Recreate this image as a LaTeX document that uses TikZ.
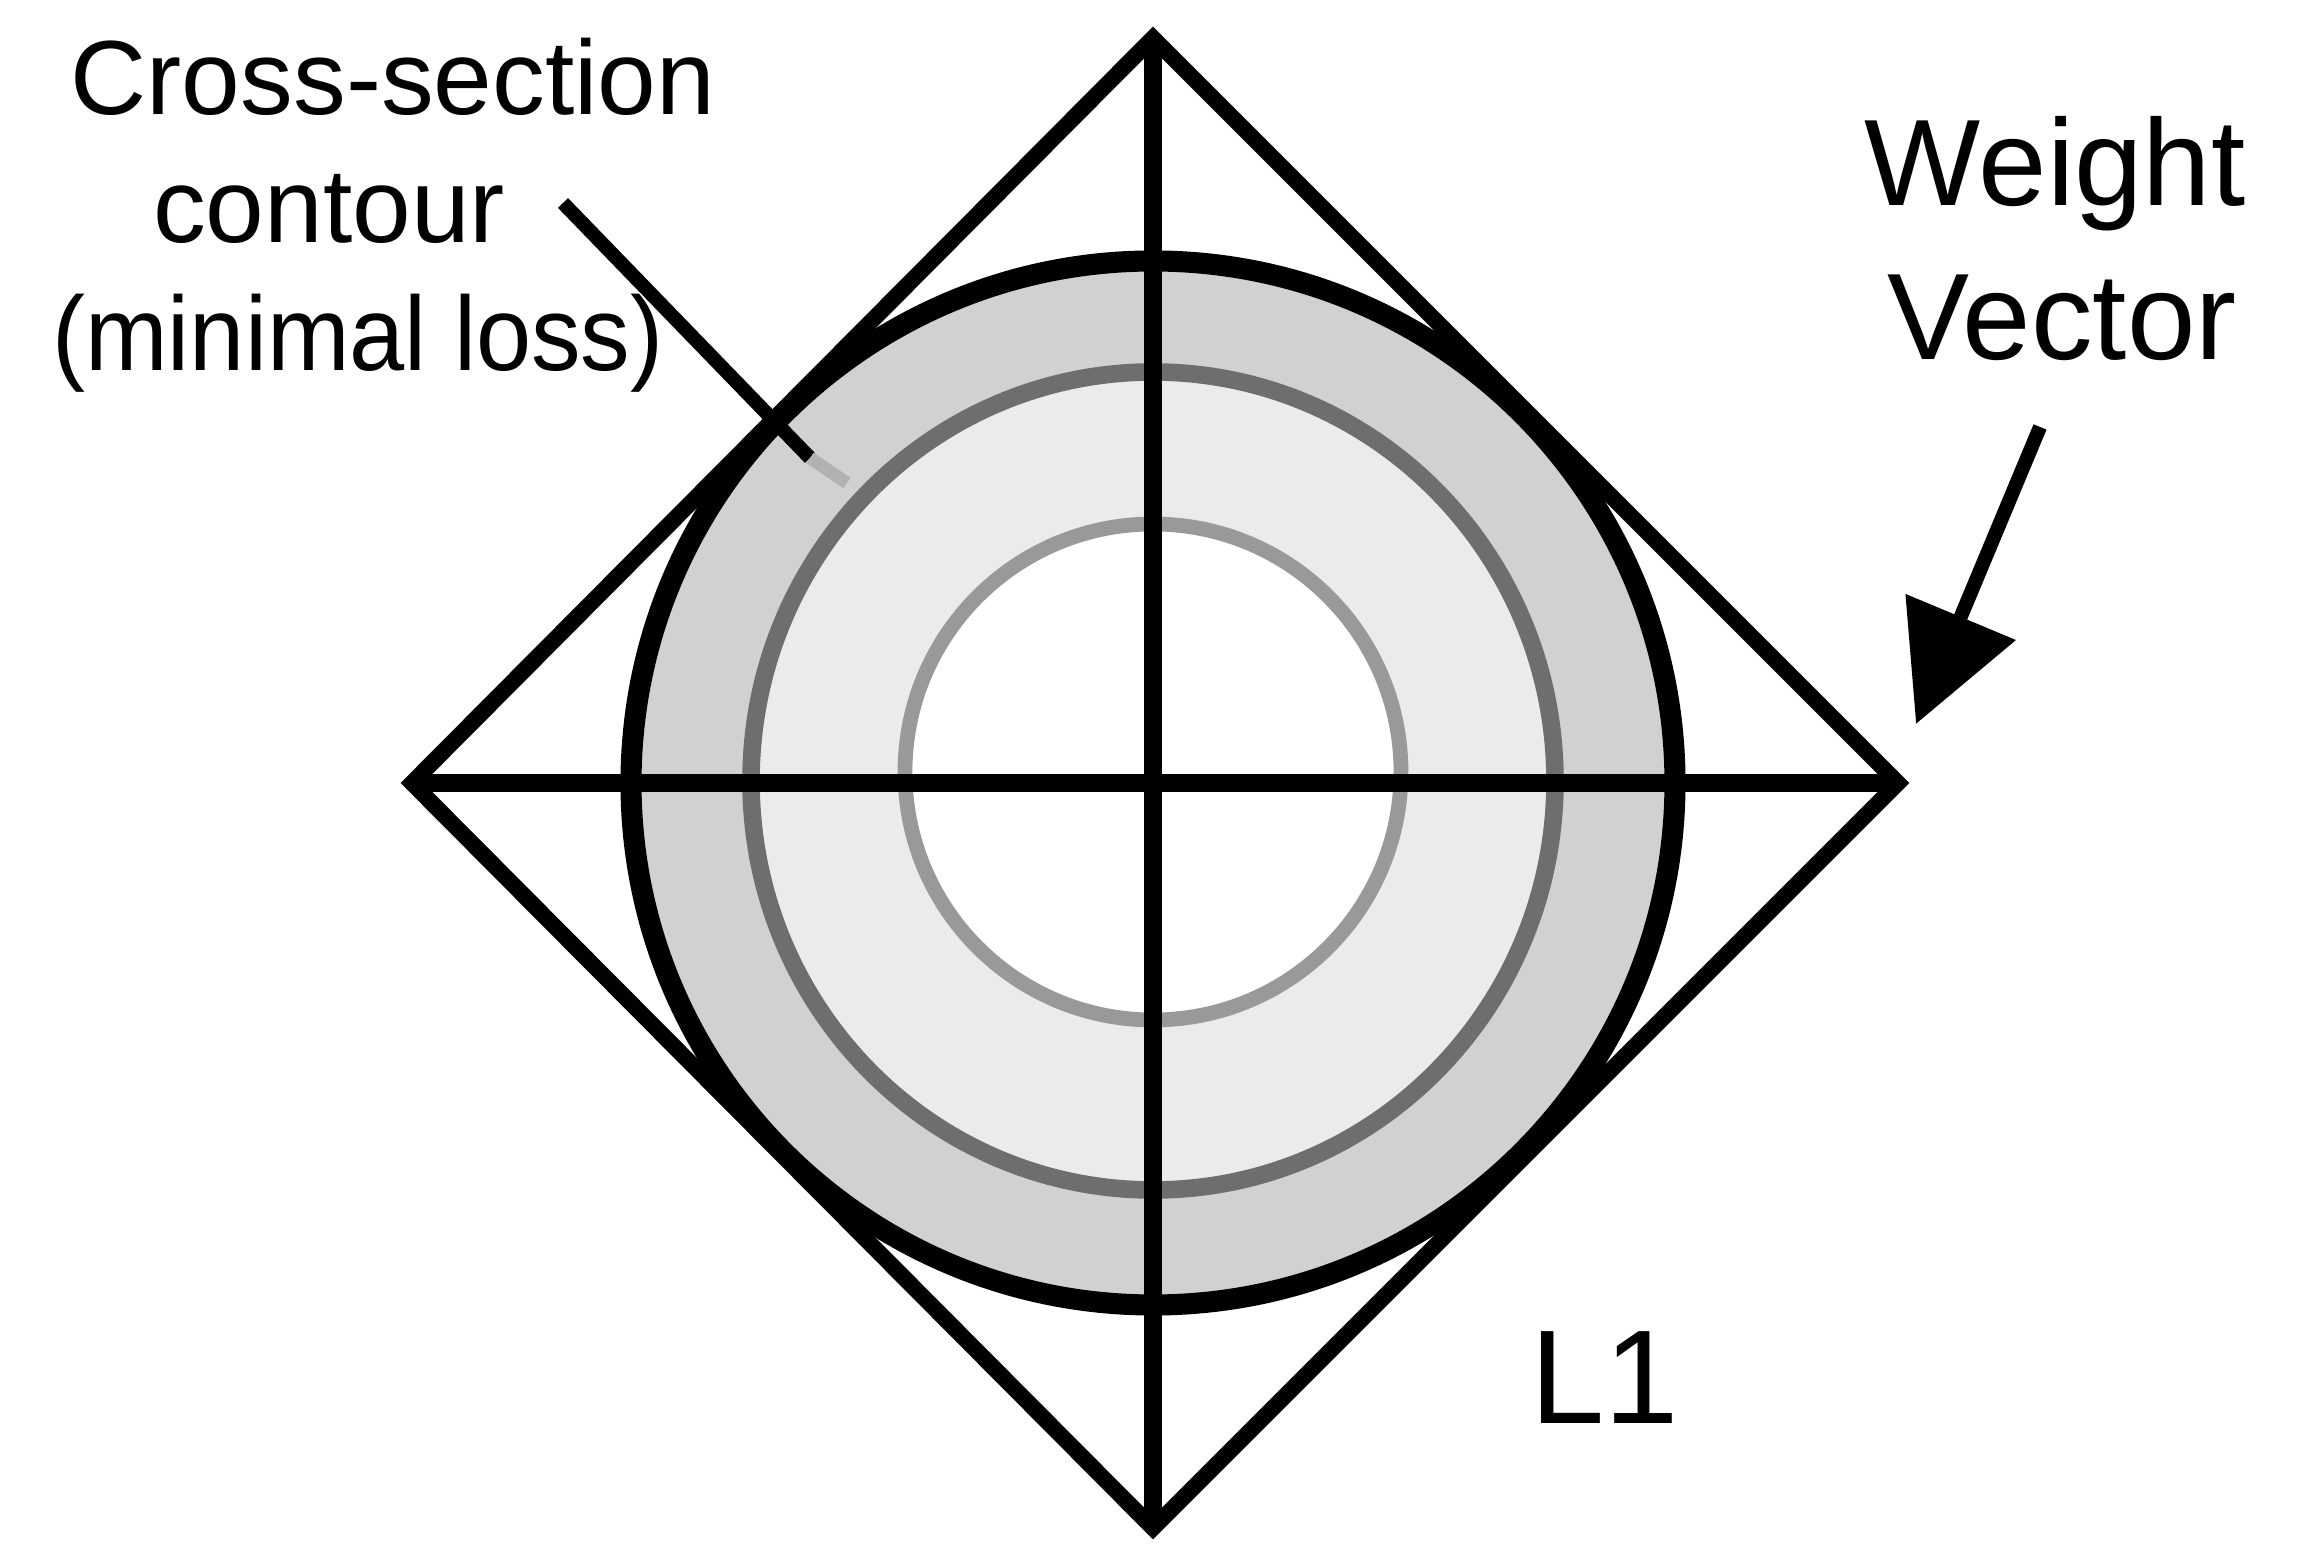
\documentclass[tikz,border=0pt]{standalone}
\usepackage{fontspec}
\setmainfont{Liberation Sans}
\usetikzlibrary{arrows.meta}

\begin{document}
\begin{tikzpicture}[
    axis/.style={line width=5pt, black},
    rim/.style={line width=4.6pt, black, line join=miter},
    lbl/.style={anchor=base, inner sep=0pt, font=\fontsize{30}{36}\selectfont},
    biglbl/.style={anchor=base, inner sep=0pt, font=\fontsize{35}{42}\selectfont}]

        \useasboundingbox (0,0) rectangle (23.06,15.56);

        \coordinate (o) at (11.53,7.73);
        \coordinate (top) at (11.53,15.18);
        \coordinate (bottom) at (11.53,0.28);
        \coordinate (left) at (4.12,7.73);
        \coordinate (right) at (18.98,7.73);

        \fill[gray!36] (o) circle (5.22);
        \filldraw[fill=gray!16, draw=black!57, line width=5pt] (11.53,7.75) ellipse (4.02 and 4.09);
        \filldraw[fill=white, draw=black!40, line width=4.2pt] (11.53,7.84) circle (2.48);
        \draw[line width=6pt] (o) circle (5.22);

        \draw[axis] (left) -- (right);
        \draw[axis] (top) -- (bottom);
        \draw[rim] (top) -- (right) -- (bottom) -- (left) -- cycle;

        \node[lbl] (cs1) at (3.93,14.41) {Cross-section};
        \node[lbl] (cs2) at (3.29,13.13) {contour};
        \node[lbl, xscale=0.94] (cs3) at (3.58,11.85) {(minimal loss)};

        \node[biglbl] (wv1) at (20.55,13.50) {Weight};
        \node[biglbl] (wv2) at (20.62,11.96) {Vector};

        \node[anchor=base, inner sep=0pt, font=\fontsize{38}{44}\selectfont] (l1) at (16.05,1.32) {L1};

        \coordinate (ptr) at (5.63,13.53);
        \coordinate (ptrend) at (8.10,10.98);
        \coordinate (ptrfade) at (8.47,10.73);
        \draw[line width=4pt] (ptr) -- (ptrend);
        \draw[line width=3.6pt, gray!60] (ptrend) -- (ptrfade);

        \coordinate (wtail) at (20.40,11.29);
        \coordinate (wtip) at (19.16,8.32);
        \draw[line width=4pt, -{Triangle[length=33pt,width=33pt]}] (wtail) -- (wtip);
    \end{tikzpicture}
\end{document}
